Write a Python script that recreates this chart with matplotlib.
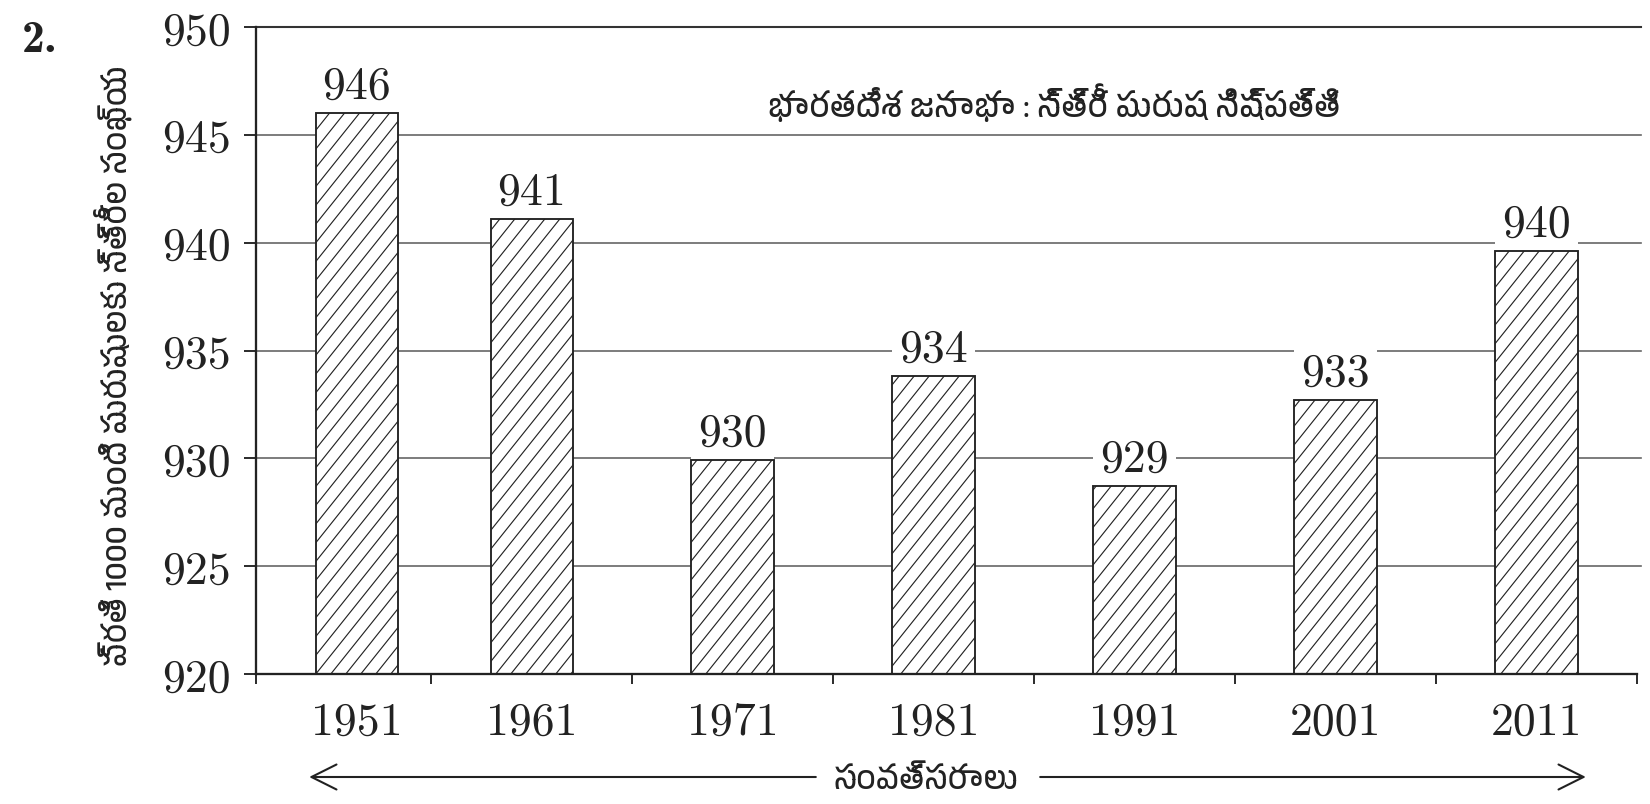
import numpy as np
import matplotlib
matplotlib.use("Agg")
import matplotlib.pyplot as plt
import matplotlib.hatch as mhatch
from matplotlib.path import Path
from matplotlib import font_manager as fm
from matplotlib.ft2font import FT2Font

# ---- data ----
years = ["1951", "1961", "1971", "1981", "1991", "2001", "2011"]
ratio_heights = [946.0, 941.1, 929.9, 933.8, 928.7, 932.7, 939.6]
ratio_labels = ["946", "941", "930", "934", "929", "933", "940"]
yticks = [920, 925, 930, 935, 940, 945, 950]
title_text = "భారతదేశ జనాభా : స్త్రీ పురుష నిష్పత్తి"
ylabel_text = "ప్రతి 1000 మంది పురుషులకు స్త్రీల సంఖ్య"
xlabel_text = "సంవత్సరాలు"
number_text = "2."


# steeper single-diagonal hatch (approx. 51 degrees), periodic in the unit tile
class SteepHatch(mhatch.HatchPatternBase):
    def __init__(self, hatch, density):
        n = hatch.count("/")
        self.js = list(range(-12, 11)) if n else []
        self.num_lines = len(self.js)
        self.num_vertices = 2 * len(self.js)

    def set_vertices_and_codes(self, vertices, codes):
        ks = np.array(self.js, dtype=float) / 10.0
        vertices[0::2, 0] = ks - 0.8 * 0.25
        vertices[0::2, 1] = -0.25
        vertices[1::2, 0] = ks + 0.8 * 1.25
        vertices[1::2, 1] = 1.25
        codes[0::2] = Path.MOVETO
        codes[1::2] = Path.LINETO


mhatch._hatch_types = [SteepHatch if t is mhatch.NorthEastHatch else t
                       for t in mhatch._hatch_types]


def find_family(ch):
    fonts = sorted(fm.fontManager.ttflist,
                   key=lambda f: (0 if "Telugu" in f.name else 1, f.name))
    for f in fonts:
        try:
            if ord(ch) in FT2Font(f.fname).get_charmap():
                return f.name
        except Exception:
            pass
    return None


tel = find_family("భ")
tel_family = [tel, "DejaVu Sans"] if tel else ["DejaVu Sans"]
serif = "cmr10"

plt.rcParams["hatch.linewidth"] = 0.55
plt.rcParams["axes.unicode_minus"] = False

DPI = 150
fig = plt.figure(figsize=(1650 / DPI, 805 / DPI), dpi=DPI)
ax = fig.add_axes([256 / 1650, 1 - 675 / 805, (1637 - 256) / 1650, (675 - 28) / 805])

pos = np.arange(len(years), dtype=float)
pos[0] += 0.13
ax.set_xlim(-0.372, 6.5)
ax.set_ylim(920, 950)

# grid
for y in yticks[1:-1]:
    ax.axhline(y, color="#666666", lw=0.8, zorder=1, xmax=1.003, clip_on=False)
ax.axhline(yticks[-1], color="#333333", lw=1.0, zorder=1, xmax=1.003, clip_on=False)

ax.bar(pos, np.array(ratio_heights) - 920, bottom=920, width=0.41,
       color="white", edgecolor="#222222", hatch="/", linewidth=0.9, zorder=2)

for p, h, lab in zip(pos, ratio_heights, ratio_labels):
    ax.annotate(lab, (p, h), xytext=(0, 3), textcoords="offset points",
                ha="center", va="bottom", fontsize=22, family=serif, zorder=1.5,
                color="#222222",
                bbox=dict(boxstyle="square,pad=0.15", fc="white", ec="none"))

# axes styling
for s in ["top", "right"]:
    ax.spines[s].set_visible(False)
ax.spines["left"].set_linewidth(1.1)
ax.spines["bottom"].set_linewidth(1.1)
ax.spines["left"].set_color("#222222")
ax.spines["bottom"].set_color("#222222")
ax.set_yticks(yticks)
ax.set_yticklabels([str(v) for v in yticks], family=serif, fontsize=22, color="#222222")
ax.tick_params(axis="y", direction="out", length=6, width=0.9, pad=6, color="#222222")

ax.set_xticks(pos)
ax.set_xticklabels(years, family=serif, fontsize=22, color="#222222")
ax.tick_params(axis="x", which="major", length=0, pad=13)
bounds = [-0.372] + [i + 0.5 for i in range(len(years))]
ax.set_xticks(bounds, minor=True)
ax.tick_params(axis="x", which="minor", direction="out", length=5, width=0.9, color="#222222")

# title inside plot
ax.text(0.578, 0.885, title_text, transform=ax.transAxes, ha="center", va="center",
        fontsize=15.5, family=tel_family, zorder=4, color="#222222")

# y label
fig.text(113 / 1650, 1 - 366 / 805, ylabel_text, rotation=90, ha="center", va="center",
         fontsize=15, family=tel_family, color="#222222")

# number
fig.text(22 / 1650, 1 - 40 / 805, number_text, ha="left", va="center",
         fontsize=22, family="cmb10", fontweight="bold", color="#222222")

# x label with arrows
fig.text(926 / 1650, 1 - 780 / 805, xlabel_text, ha="center", va="center",
         fontsize=15, family=tel_family, color="#222222")
for start, end in [((820, 778), (305, 778)), ((1036, 778), (1590, 778))]:
    fig.add_artist(matplotlib.patches.FancyArrowPatch(
        (start[0] / 1650, 1 - start[1] / 805), (end[0] / 1650, 1 - end[1] / 805),
        transform=fig.transFigure, arrowstyle="->,head_length=6,head_width=3",
        color="#222222", lw=1.0, mutation_scale=2))

fig.savefig("out.png", dpi=DPI, facecolor="white")
